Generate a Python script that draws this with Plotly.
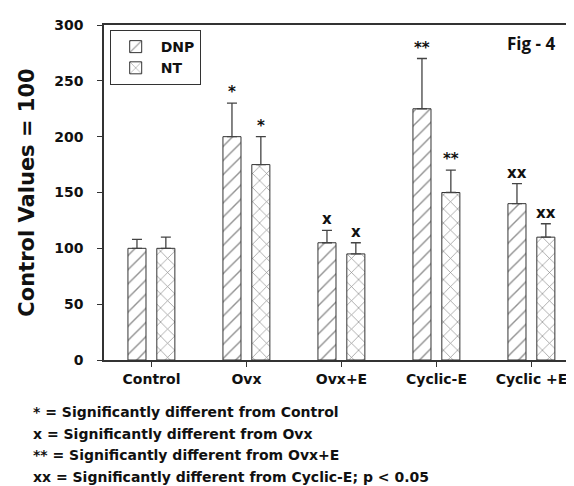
import plotly.graph_objects as go

categories = ["Control", "Ovx", "Ovx+E", "Cyclic-E", "Cyclic +E"]
dnp_values = [100, 200, 105, 225, 140]
dnp_err = [8, 30, 11, 45, 18]
nt_values = [100, 175, 95, 150, 110]
nt_err = [10, 25, 10, 20, 12]
dnp_marks = ["", "*", "x", "**", "xx"]
nt_marks = ["", "*", "x", "**", "xx"]
y_ticks = [0, 50, 100, 150, 200, 250, 300]
footnotes = [
    "* = Significantly different from Control",
    "x = Significantly different from Ovx",
    "** = Significantly different from Ovx+E",
    "xx = Significantly different from Cyclic-E; p < 0.05",
]

BW = 0.19
OFF_DNP = -0.248
OFF_NT = 0.056
FONT = "DejaVu Sans, sans-serif"
LINE = "#333333"
TXT = "#111111"

fig = go.Figure()
for name, vals, errs, shape, off in [
    ("DNP", dnp_values, dnp_err, "/", OFF_DNP),
    ("NT", nt_values, nt_err, "x", OFF_NT),
]:
    fig.add_trace(go.Bar(
        name=name, x=categories, y=vals, width=BW, offset=off,
        marker=dict(color="white", line=dict(color=LINE, width=1),
                    pattern=dict(shape=shape, fgcolor="#222222", bgcolor="white",
                                 size=10, solidity=0.14)),
        error_y=dict(type="data", symmetric=False, array=errs,
                     arrayminus=[0] * len(errs), color="#444444",
                     thickness=1.3, width=5),
    ))

annotations = []
for i in range(len(categories)):
    for vals, errs, marks, off in [
        (dnp_values, dnp_err, dnp_marks, OFF_DNP),
        (nt_values, nt_err, nt_marks, OFF_NT),
    ]:
        if marks[i]:
            annotations.append(dict(
                x=i + off + BW / 2, y=vals[i] + errs[i], xref="x", yref="y",
                text=marks[i], showarrow=False, yanchor="bottom",
                yshift=0, font=dict(family=FONT, size=15, color=TXT, weight="bold")))

annotations.append(dict(x=0.953, y=0.945, xref="paper", yref="paper",
                        text="Fig - 4", showarrow=False,
                        xanchor="right", yanchor="middle",
                        font=dict(family="Open Sans, sans-serif", size=17, color=TXT,
                                  weight="bold")))

for k, t in enumerate(footnotes):
    annotations.append(dict(x=-0.153, y=-0.156 - k * 0.0645, xref="paper", yref="paper",
                            text=t, showarrow=False,
                            xanchor="left", yanchor="middle",
                            font=dict(family=FONT, size=14, color=TXT, weight="bold")))

fig.update_layout(
    width=574, height=486,
    margin=dict(l=96, r=1, t=17, b=134),
    plot_bgcolor="white", paper_bgcolor="white",
    annotations=annotations,
    legend=dict(x=0.012, y=0.985, xanchor="left", yanchor="top",
                bordercolor=LINE, borderwidth=1, bgcolor="white",
                font=dict(family=FONT, size=14, color=TXT, weight="bold"),
                itemwidth=40, tracegroupgap=2),
    font=dict(family=FONT, color=TXT),
)
fig.update_xaxes(range=[-0.5, 4.5], showline=True, linecolor=LINE, linewidth=1.5,
                 mirror=True, ticks="outside", ticklen=5, tickcolor=LINE,
                 tickfont=dict(family=FONT, size=14, color=TXT, weight="bold"))
fig.update_yaxes(range=[0, 300], tickvals=y_ticks, showline=True, linecolor=LINE,
                 linewidth=1.5, mirror=True, ticks="outside", ticklen=5,
                 tickcolor=LINE, showgrid=False, zeroline=False,
                 ticklabelstandoff=11,
                 tickfont=dict(family=FONT, size=14, color=TXT, weight="bold"),
                 title=dict(text="Control Values = 100", standoff=14,
                            font=dict(family=FONT, size=21, color=TXT, weight="bold")))

fig.write_html("out.html")
